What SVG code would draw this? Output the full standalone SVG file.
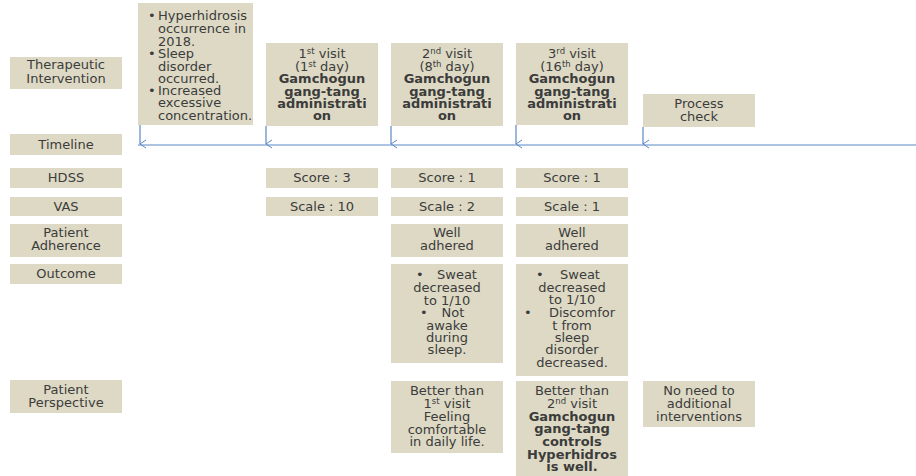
<svg xmlns="http://www.w3.org/2000/svg" width="916" height="476" viewBox="0 0 916 476">
<style>
.b{fill:#ddd9c4;}
text{font-family:"DejaVu Sans","Noto Sans",sans-serif;font-size:13px;fill:#3c3c3c;}
.m{text-anchor:middle;}
.bd{font-weight:bold;}
.sup{font-size:8.5px;}
.ln{stroke:#5b87c6;stroke-width:1.2;fill:none;}
</style>
<defs>
<marker id="ah" markerWidth="10" markerHeight="8" refX="5" refY="7" orient="auto" markerUnits="userSpaceOnUse">
<path d="M1,1 L5,7 L9,1" fill="none" stroke="#5b87c6" stroke-width="1"/>
</marker>
</defs>
<rect width="916" height="476" fill="#ffffff"/>

<g id="connectors">
<line class="ln" x1="138" y1="145" x2="916" y2="145" stroke-width="1.5"/>
<line class="ln" x1="140" y1="125" x2="140" y2="144" marker-end="url(#ah)"/>
<line class="ln" x1="266" y1="126" x2="266" y2="144" marker-end="url(#ah)"/>
<line class="ln" x1="391" y1="126" x2="391" y2="144" marker-end="url(#ah)"/>
<line class="ln" x1="516" y1="125" x2="516" y2="144" marker-end="url(#ah)"/>
<line class="ln" x1="643" y1="127" x2="643" y2="144" marker-end="url(#ah)"/>
</g>

<g id="lbl-therapeutic"><rect class="b" x="10" y="57" width="112" height="32"/>
<text class="m" x="66" y="69">Therapeutic</text><text class="m" x="66" y="83">Intervention</text></g>
<g id="lbl-timeline"><rect class="b" x="10" y="134" width="112" height="21"/>
<text class="m" x="66" y="149">Timeline</text></g>
<g id="lbl-hdss"><rect class="b" x="10" y="168" width="112" height="20"/>
<text class="m" x="66" y="182">HDSS</text></g>
<g id="lbl-vas"><rect class="b" x="10" y="197" width="112" height="19"/>
<text class="m" x="66" y="211">VAS</text></g>
<g id="lbl-adherence"><rect class="b" x="10" y="224" width="112" height="33"/>
<text class="m" x="66" y="237">Patient</text><text class="m" x="66" y="250">Adherence</text></g>
<g id="lbl-outcome"><rect class="b" x="10" y="264" width="112" height="20"/>
<text class="m" x="66" y="278">Outcome</text></g>
<g id="lbl-perspective"><rect class="b" x="10" y="380" width="112" height="33"/>
<text class="m" x="66" y="394">Patient</text><text class="m" x="66" y="407">Perspective</text></g>

<g id="history"><rect class="b" x="138" y="3" width="115" height="122"/>
<text x="148" y="20">•</text><text x="158" y="20">Hyperhidrosis</text>
<text x="158" y="33">occurrence in</text>
<text x="158" y="46">2018.</text>
<text x="148" y="58">•</text><text x="158" y="58">Sleep</text>
<text x="158" y="71">disorder</text>
<text x="158" y="83">occurred.</text>
<text x="148" y="95">•</text><text x="158" y="95">Increased</text>
<text x="158" y="107">excessive</text>
<text x="158" y="120">concentration.</text>
</g>

<g id="visit1"><rect class="b" x="266" y="43" width="112" height="83"/>
<text class="m" x="322" y="58">1<tspan class="sup" dy="-4">st</tspan><tspan dy="4"> visit</tspan></text>
<text class="m" x="322" y="71">(1<tspan class="sup" dy="-4">st</tspan><tspan dy="4"> day)</tspan></text>
<text class="m bd" x="322" y="83">Gamchogun</text>
<text class="m bd" x="322" y="96">gang-tang</text>
<text class="m bd" x="322" y="108">administrati</text>
<text class="m bd" x="322" y="120">on</text>
</g>
<g id="visit2"><rect class="b" x="391" y="43" width="112" height="83"/>
<text class="m" x="447" y="58">2<tspan class="sup" dy="-4">nd</tspan><tspan dy="4"> visit</tspan></text>
<text class="m" x="447" y="71">(8<tspan class="sup" dy="-4">th</tspan><tspan dy="4"> day)</tspan></text>
<text class="m bd" x="447" y="83">Gamchogun</text>
<text class="m bd" x="447" y="96">gang-tang</text>
<text class="m bd" x="447" y="108">administrati</text>
<text class="m bd" x="447" y="120">on</text>
</g>
<g id="visit3"><rect class="b" x="516" y="43" width="112" height="82"/>
<text class="m" x="572" y="58">3<tspan class="sup" dy="-4">rd</tspan><tspan dy="4"> visit</tspan></text>
<text class="m" x="572" y="71">(16<tspan class="sup" dy="-4">th</tspan><tspan dy="4"> day)</tspan></text>
<text class="m bd" x="572" y="83">Gamchogun</text>
<text class="m bd" x="572" y="96">gang-tang</text>
<text class="m bd" x="572" y="108">administrati</text>
<text class="m bd" x="572" y="120">on</text>
</g>
<g id="process-check"><rect class="b" x="643" y="94" width="112" height="33"/>
<text class="m" x="699" y="108">Process</text><text class="m" x="699" y="121">check</text></g>

<g id="hdss1"><rect class="b" x="266" y="168" width="112" height="20"/><text class="m" x="322" y="182">Score : 3</text></g>
<g id="hdss2"><rect class="b" x="391" y="168" width="112" height="20"/><text class="m" x="447" y="182">Score : 1</text></g>
<g id="hdss3"><rect class="b" x="516" y="168" width="112" height="20"/><text class="m" x="572" y="182">Score : 1</text></g>
<g id="vas1"><rect class="b" x="266" y="197" width="112" height="19"/><text class="m" x="322" y="211">Scale : 10</text></g>
<g id="vas2"><rect class="b" x="391" y="197" width="112" height="19"/><text class="m" x="447" y="211">Scale : 2</text></g>
<g id="vas3"><rect class="b" x="516" y="197" width="112" height="19"/><text class="m" x="572" y="211">Scale : 1</text></g>
<g id="adh2"><rect class="b" x="391" y="224" width="112" height="33"/><text class="m" x="447" y="237">Well</text><text class="m" x="447" y="250">adhered</text></g>
<g id="adh3"><rect class="b" x="516" y="224" width="112" height="33"/><text class="m" x="572" y="237">Well</text><text class="m" x="572" y="250">adhered</text></g>

<g id="outcome2"><rect class="b" x="391" y="264" width="112" height="99"/>
<text x="416" y="279">•</text><text class="m" x="457" y="279">Sweat</text>
<text class="m" x="447" y="292">decreased</text>
<text class="m" x="447" y="305">to 1/10</text>
<text x="420" y="317">•</text><text class="m" x="453" y="317">Not</text>
<text class="m" x="447" y="330">awake</text>
<text class="m" x="447" y="342">during</text>
<text class="m" x="447" y="354">sleep.</text>
</g>
<g id="outcome3"><rect class="b" x="516" y="264" width="112" height="112"/>
<text x="536" y="279">•</text><text class="m" x="580" y="279">Sweat</text>
<text class="m" x="572" y="292">decreased</text>
<text class="m" x="572" y="304">to 1/10</text>
<text x="524" y="317">•</text><text class="m" x="582" y="317">Discomfor</text>
<text class="m" x="572" y="330">t from</text>
<text class="m" x="572" y="342">sleep</text>
<text class="m" x="572" y="354">disorder</text>
<text class="m" x="572" y="367">decreased.</text>
</g>

<g id="persp2"><rect class="b" x="391" y="381" width="112" height="72"/>
<text class="m" x="447" y="395">Better than</text>
<text class="m" x="447" y="408">1<tspan class="sup" dy="-4">st</tspan><tspan dy="4"> visit</tspan></text>
<text class="m" x="447" y="421">Feeling</text>
<text class="m" x="447" y="434">comfortable</text>
<text class="m" x="447" y="446">in daily life.</text>
</g>
<g id="persp3"><rect class="b" x="516" y="381" width="112" height="95"/>
<text class="m" x="572" y="395">Better than</text>
<text class="m" x="572" y="408">2<tspan class="sup" dy="-4">nd</tspan><tspan dy="4"> visit</tspan></text>
<text class="m bd" x="572" y="421">Gamchogun</text>
<text class="m bd" x="572" y="433">gang-tang</text>
<text class="m bd" x="572" y="446">controls</text>
<text class="m bd" x="572" y="459">Hyperhidros</text>
<text class="m bd" x="572" y="471">is well.</text>
</g>
<g id="persp4"><rect class="b" x="643" y="381" width="112" height="46"/>
<text class="m" x="699" y="395">No need to</text>
<text class="m" x="699" y="408">additional</text>
<text class="m" x="699" y="421">interventions</text>
</g>
</svg>
